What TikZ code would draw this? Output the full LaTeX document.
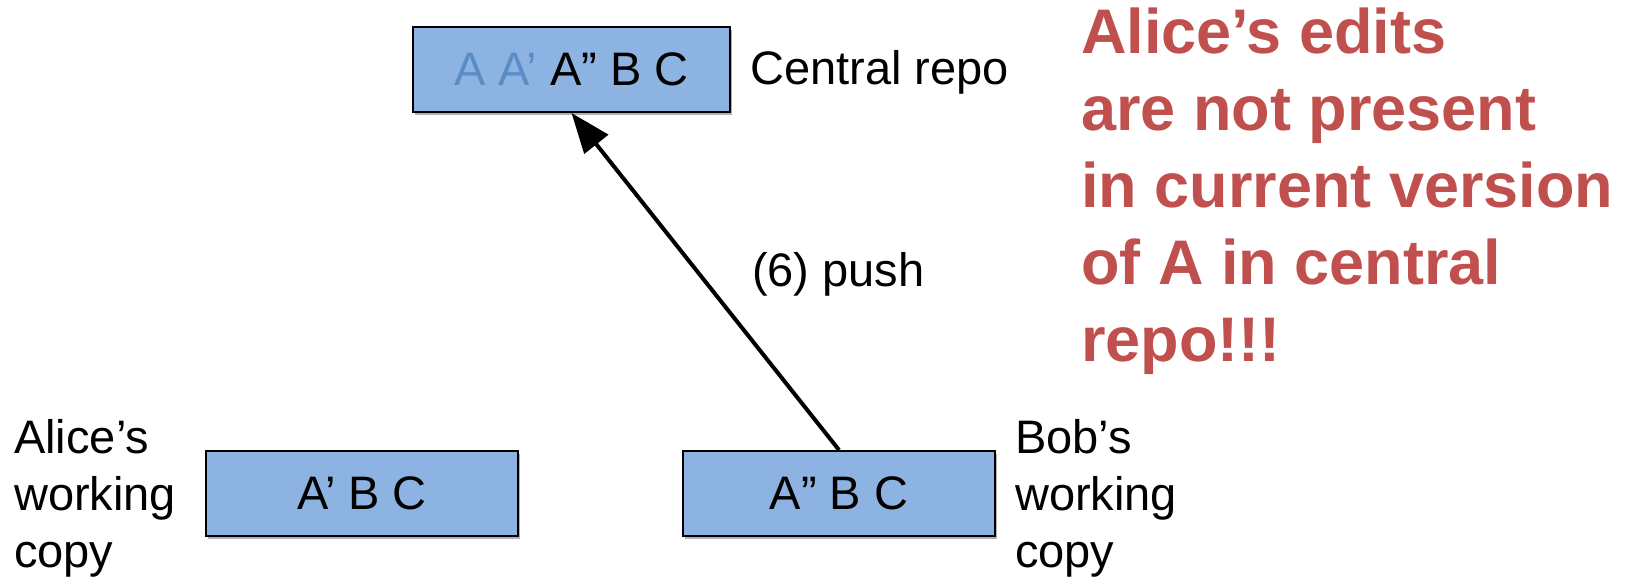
\documentclass[tikz,border=0pt]{standalone}
\usepackage{fontspec}
\setmainfont{Liberation Sans}
\usetikzlibrary{arrows.meta,shadows}
\definecolor{boxblue}{HTML}{8DB3E2}
\definecolor{alertred}{HTML}{C0504D}
\definecolor{oldblue}{HTML}{5A8DC8}
\begin{document}
\begin{tikzpicture}[x=1pt,y=-1pt,
  repobox/.style={draw=black, line width=2pt, fill=boxblue, inner sep=0pt,
    minimum height=85pt,
    font=\fontsize{47}{57}\selectfont,
    drop shadow={shadow xshift=1.5pt, shadow yshift=-3pt, opacity=0.3, fill=black}},
  lbl/.style={font=\fontsize{47}{57}\selectfont, inner sep=0pt, align=left},
  alert/.style={font=\bfseries\fontsize{63}{77}\selectfont, text=alertred, inner sep=0pt, align=left},
  pusharrow/.style={line width=4pt, -{Triangle[length=40pt,width=30pt]}}]
\useasboundingbox (0,0) rectangle (1637,580);
\node[repobox, minimum width=317pt] (central) at (571.5,69.5) {\textcolor{oldblue}{A A’} A” B C};
\node[repobox, minimum width=312pt] (alice) at (362,493.5) {A’ B C};
\node[repobox, minimum width=312pt] (bob) at (839,493.5) {A” B C};
\node[lbl, anchor=base west] (centrallbl) at (750,85) {Central repo};
\node[lbl, anchor=base west] (alicelbl) at (14,567) {Alice’s\\working\\copy};
\node[lbl, anchor=base west] (boblbl) at (1015,567) {Bob’s\\working\\copy};
\node[lbl, anchor=base west] (pushlbl) at (752,286) {(6) push};
\draw[pusharrow] (bob.north) -- (central.south);
\node[alert, anchor=base west] (note) at (1081,361) {Alice’s edits\\are not present\\in current version\\of A in central\\repo!!!};
\end{tikzpicture}
\end{document}
